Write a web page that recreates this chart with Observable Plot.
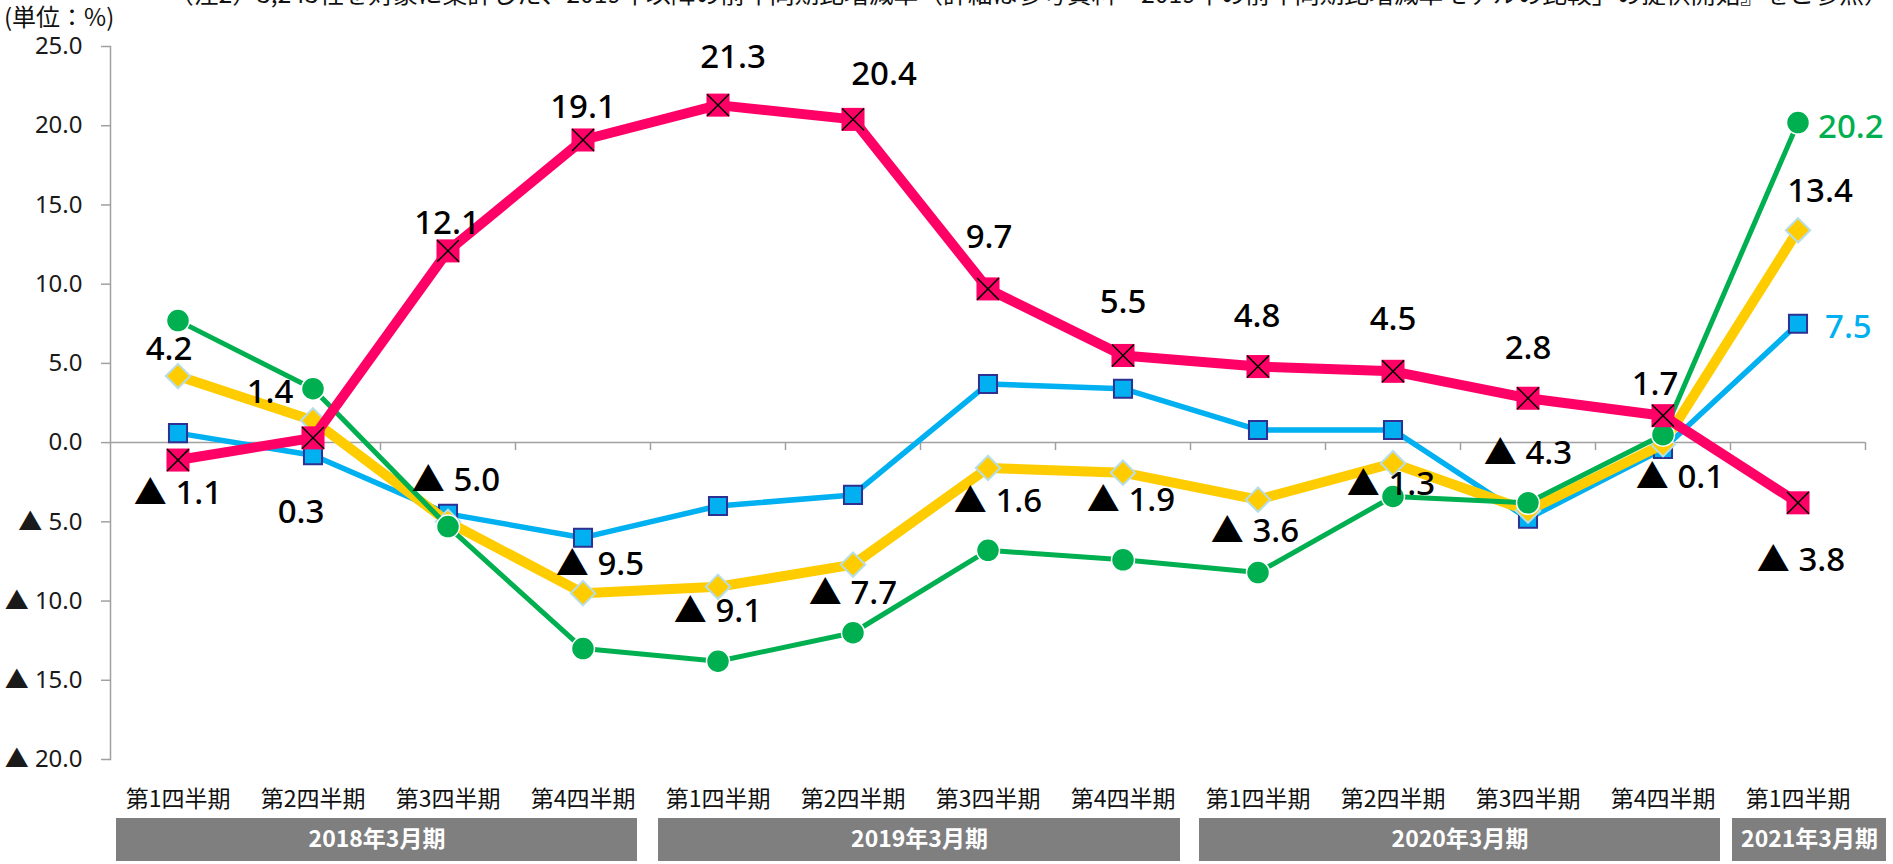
<!DOCTYPE html>
<html><head><meta charset="utf-8">
<script src="https://cdn.jsdelivr.net/npm/d3@7"></script>
<script src="https://cdn.jsdelivr.net/npm/@observablehq/plot@0.6"></script>
<style>
html,body{margin:0;padding:0;background:#fff;}
body{width:1893px;height:864px;overflow:hidden;position:relative;font-family:"Noto Sans","Noto Sans CJK JP",sans-serif;}
#chart svg{display:block;overflow:visible;}
#unit{position:absolute;left:4px;top:5px;font-size:24px;line-height:22px;height:22px;font-family:"Noto Sans CJK JP",sans-serif;color:#111;}
#note{position:absolute;left:169px;top:-19px;font-size:24px;line-height:24px;white-space:nowrap;transform-origin:0 0;font-family:"Noto Sans CJK JP",sans-serif;color:#111;}
</style></head><body>
<div id="chart"></div>
<div id="note">（注2）3,243社を対象に集計した、2019年以降の前年同期比増減率（詳細は参考資料「2019年の前年同期比増減率モデルの比較」の提供開始』をご参照）</div>
<div id="unit">(単位：%)</div>
<script>
// ---- data ----
const quarters = ["第1四半期","第2四半期","第3四半期","第4四半期",
                  "第1四半期","第2四半期","第3四半期","第4四半期",
                  "第1四半期","第2四半期","第3四半期","第4四半期",
                  "第1四半期"];
const fiscalYears = ["2018年3月期","2019年3月期","2020年3月期","2021年3月期"];
const fiscalYearQuarterCount = [4, 4, 4, 1];
const seriesPink   = [-1.1, 0.3, 12.1, 19.1, 21.3, 20.4, 9.7, 5.5, 4.8, 4.5, 2.8, 1.7, -3.8];
const seriesYellow = [4.2, 1.4, -5.0, -9.5, -9.1, -7.7, -1.6, -1.9, -3.6, -1.3, -4.3, -0.1, 13.4];
const seriesGreen  = [7.7, 3.4, -5.3, -13.0, -13.8, -12.0, -6.8, -7.4, -8.2, -3.4, -3.8, 0.5, 20.2];
const seriesBlue   = [0.6, -0.8, -4.5, -6.0, -4.0, -3.3, 3.7, 3.4, 0.8, 0.8, -4.8, -0.4, 7.5];
const yTicks = [-20, -15, -10, -5, 0, 5, 10, 15, 20, 25];

// ---- label placement (pixel offsets from each point) ----
const pinkLabelOffsets = [[0,33],[-12,75],[-1,-27],[0,-33],[15,-48],[31,-45],[1,-51],[0,-53],[-1,-50],[0,-52],[0,-50],[-8,-31],[3,58]];
const yellowLabelOffsets = [[-9,-27],[-43,-28],[8,-41],[17,-29],[0,25],[0,29],[10,33],[8,28],[-3,32],[-2,21],[0,-57],[17,33],[22,-39]];

const fmt = v => v < 0 ? "▲ " + Math.abs(v).toFixed(1) : v.toFixed(1);
const n = quarters.length;
const idx = d3.range(n);

const colors = {pink:"#FF0066", yellow:"#FFCC00", green:"#00B050", blue:"#00B0F0"};
const rows = (name, arr) => arr.map((v, i) => ({series: name, i, v}));
const pink = rows("pink", seriesPink), yellow = rows("yellow", seriesYellow),
      green = rows("green", seriesGreen), blue = rows("blue", seriesBlue);

const labels = [];
pink.forEach((d, k) => labels.push({...d, text: fmt(d.v), dx: pinkLabelOffsets[k][0], dy: pinkLabelOffsets[k][1], anchor: "middle", fill: "#000"}));
yellow.forEach((d, k) => labels.push({...d, text: fmt(d.v), dx: yellowLabelOffsets[k][0], dy: yellowLabelOffsets[k][1], anchor: "middle", fill: "#000"}));
labels.push({...green[n-1], text: fmt(green[n-1].v), dx: 20, dy: 5, anchor: "start", fill: colors.green});
labels.push({...blue[n-1], text: fmt(blue[n-1].v), dx: 27, dy: 4, anchor: "start", fill: colors.blue});

const W = 1893, mL = 110, mR = 28;
const xScale = {type: "linear", domain: [-0.5, n - 0.5], axis: null};
const boundaries = d3.range(1, n + 1).map(k => k - 0.5);
const numFont = '"Noto Sans","Noto Sans CJK JP",sans-serif';

const main = Plot.plot({
  width: W, height: 775,
  marginLeft: mL, marginRight: mR, marginTop: 46, marginBottom: 16,
  x: xScale,
  y: {domain: [-20, 25], label: null},
  style: {fontFamily: numFont, background: "#fff"},
  marks: [
    Plot.ruleY([0], {stroke: "#a0a0a0", strokeWidth: 1.5}),
    Plot.ruleX(boundaries, {x: d => d, y1: () => 0, y2: () => 0, insetBottom: -8, stroke: "#a0a0a0", strokeWidth: 1.5}),
    Plot.frame({anchor: "left", stroke: "#a0a0a0", strokeWidth: 1.5}),
    Plot.axisY(yTicks, {text: null, tickSize: 9, stroke: "#a0a0a0", strokeWidth: 1.5, label: null}),
    Plot.axisY(yTicks, {tickSize: 0, tickPadding: 28, tickFormat: fmt, fontSize: 24, fill: "#1a1a1a", label: null}),
    // blue
    Plot.line(blue, {x: "i", y: "v", stroke: colors.blue, strokeWidth: 5.5}),
    Plot.dot(blue, {x: "i", y: "v", symbol: "square", r: 10.2, fill: colors.blue, stroke: "#2E3192", strokeWidth: 2}),
    // yellow
    Plot.line(yellow, {x: "i", y: "v", stroke: colors.yellow, strokeWidth: 10}),
    Plot.dot(yellow, {x: "i", y: "v", symbol: "diamond2", r: 11, fill: colors.yellow, stroke: "#B7DEE8", strokeWidth: 2}),
    // green
    Plot.line(green, {x: "i", y: "v", stroke: colors.green, strokeWidth: 5}),
    Plot.dot(green, {x: "i", y: "v", symbol: "circle", r: 11.5, fill: colors.green, stroke: "#fff", strokeWidth: 1.5}),
    // pink
    Plot.line(pink, {x: "i", y: "v", stroke: colors.pink, strokeWidth: 10}),
    Plot.dot(pink, {x: "i", y: "v", symbol: "square", r: 13, fill: colors.pink}),
    Plot.dot(pink, {x: "i", y: "v", symbol: "times", r: 10, stroke: "#000", strokeWidth: 1.5}),
    // labels
    ...labels.map(l => Plot.text([l], {x: "i", y: "v", text: "text", dx: l.dx, dy: l.dy, textAnchor: l.anchor, lineAnchor: "middle", fill: l.fill, fontSize: 33, fontWeight: 500}))
  ]
});

// category axis with fiscal-year group boxes
const groups = [];
let start = 0;
fiscalYears.forEach((name, g) => {
  const end = start + fiscalYearQuarterCount[g] - 1;
  groups.push({name, start, end});
  start = end + 1;
});
const groupInsets = [[6, 13], [8, 10], [9, 10], [2, -21]];

const bottom = Plot.plot({
  width: W, height: 89,
  marginLeft: mL, marginRight: mR, marginTop: 43, marginBottom: 3,
  x: xScale,
  style: {fontFamily: '"Noto Sans CJK JP",sans-serif', background: "transparent"},
  marks: [
    Plot.text(idx, {x: i => i, text: i => quarters[i], frameAnchor: "top", dy: -19, lineAnchor: "middle", fontSize: 23, fill: "#111"}),
    ...groups.map((g, k) => Plot.rect([g], {x1: d => d.start - 0.5, x2: d => d.end + 0.5, fill: "#7F7F7F", insetLeft: groupInsets[k][0], insetRight: groupInsets[k][1]})),
    ...groups.map((g, k) => Plot.text([g], {x: d => (d.start + d.end) / 2, text: "name", frameAnchor: "middle", lineAnchor: "middle", dx: (groupInsets[k][0] - groupInsets[k][1]) / 2, fill: "#fff", fontWeight: "bold", fontSize: 23}))
  ]
});

const chart = document.getElementById("chart");
chart.appendChild(main);
chart.appendChild(bottom);

// fit the clipped note line to its width
const note = document.getElementById("note");
const w = note.scrollWidth;
note.style.transform = `scaleX(${1720 / w})`;
</script>
</body></html>
